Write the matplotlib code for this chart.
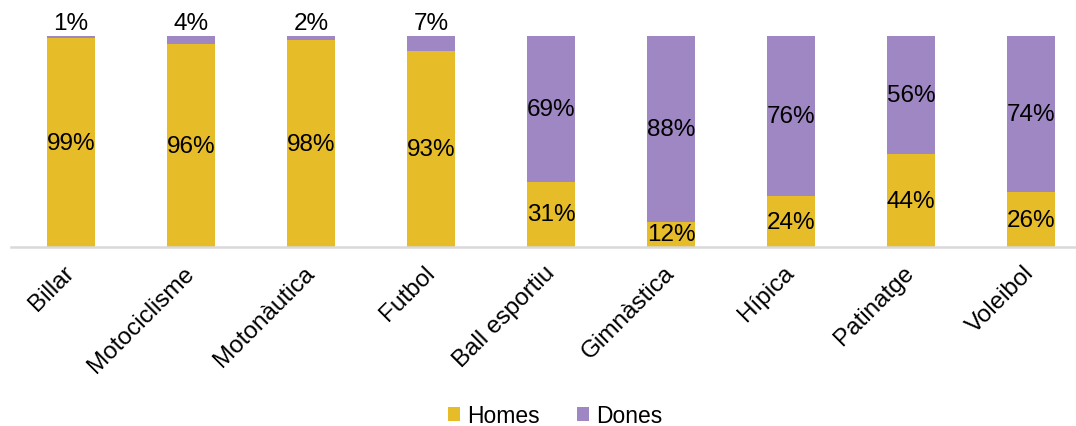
import matplotlib.pyplot as plt
import numpy as np

plt.rcParams['font.family'] = ['Liberation Sans', 'DejaVu Sans']

# Data
categories = ['Billar', 'Motociclisme', 'Motonàutica', 'Futbol', 'Ball esportiu',
              'Gimnàstica', 'Hípica', 'Patinatge', 'Voleibol']
homes = [99, 96, 98, 93, 31, 12, 24, 44, 26]
dones = [1, 4, 2, 7, 69, 88, 76, 56, 74]

gold = '#E6BC29'
purple = '#9E87C2'
fs = 17.5

fig = plt.figure(figsize=(10.76, 4.27), dpi=100)
ax = fig.add_axes([11 / 1076, 1 - 248 / 427, 1 - 11 / 1076, 211 / 427])

x = np.arange(len(categories))
ax.bar(x, homes, width=0.4, color=gold, label='Homes')
ax.bar(x, dones, width=0.4, bottom=homes, color=purple, label='Dones')

# Percent labels in the middle of each segment (small ones go above the bar)
for i in range(len(categories)):
    ax.text(x[i], homes[i] / 2, f'{homes[i]}%', ha='center', va='center', fontsize=fs)
    if dones[i] < 10:
        ax.text(x[i], 106, f'{dones[i]}%', ha='center', va='center', fontsize=fs)
    else:
        ax.text(x[i], homes[i] + dones[i] / 2, f'{dones[i]}%', ha='center', va='center', fontsize=fs)

ax.set_xlim(-0.5, -0.5 + 1065 / 120)
ax.set_ylim(0, 100)
ax.set_yticks([])
ax.set_xticks(x)
ax.set_xticklabels(categories, rotation=45, ha='right', va='center',
                   rotation_mode='anchor', fontsize=fs)
ax.tick_params(axis='x', length=0, pad=16)

for side in ['top', 'right', 'left']:
    ax.spines[side].set_visible(False)
ax.spines['bottom'].set_color('#D9D9D9')
ax.spines['bottom'].set_linewidth(1.8)

fig.legend(loc='center', bbox_to_anchor=(555 / 1076, 1 - 417 / 427), ncol=2,
           frameon=False, fontsize=16.5, handlelength=0.55, handleheight=0.55,
           handletextpad=0.3, columnspacing=1.6, borderpad=0.1)

fig.savefig('out.png', dpi=100)
